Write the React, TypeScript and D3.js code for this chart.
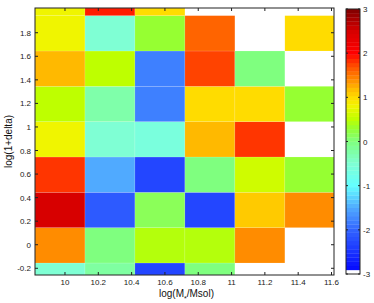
import React from "react";
import * as d3 from "d3";

// Bin centers (bin width 0.3)
const xCenters = [9.97, 10.27, 10.57, 10.87, 11.17, 11.47];
const yCenters = [-0.305, -0.005, 0.295, 0.595, 0.895, 1.195, 1.495, 1.795, 2.095];
const binW = 0.3;
// values[row][col], row 0 = lowest y bin; null = empty (white)
const values: (number | null)[][] = [
  [-0.5, -0.2, -2.3, 0, null, null],
  [1.4, 0, 0.45, 0.45, 1.4, null],
  [2.5, -2.1, 0.15, -2.3, 1.1, 1.4],
  [1.8, -1.5, -2.3, 0, 0.6, 0.3],
  [0.8, -0.5, -0.6, 1.2, 1.8, null],
  [0.5, -0.25, -1.8, 1.0, 1.0, 0.3],
  [1.2, 0.5, -1.8, 1.75, 0, null],
  [0.8, -0.5, 0.3, 1.6, null, 1.0],
  [0.8, 1.9, 1.0, null, null, null],
];
const xTicks = [10, 10.2, 10.4, 10.6, 10.8, 11, 11.2, 11.4, 11.6];
const yTicks = [-0.2, 0, 0.2, 0.4, 0.6, 0.8, 1, 1.2, 1.4, 1.6, 1.8];
const cTicks = [-3, -2, -1, 0, 1, 2, 3];
const cStops = [-3, -2.4, -2, -1.5, -1, -0.5, 0, 0.3, 0.5, 0.8, 1, 1.2, 1.4, 1.7, 2, 2.5, 3];
const cColors = [
  "#0000ff", "#1e3cff", "#3264ff", "#50aaff", "#64ffff", "#7fffd4", "#7fff7f",
  "#96ff32", "#beff00", "#f0f500", "#ffdc00", "#ffb900", "#ff8c00", "#ff5000",
  "#ff0000", "#d70000", "#800000",
];

const W = 374, H = 303;
const L = 35, R = 334, T = 8, B = 275;
const font = "'Liberation Sans', Arial, Helvetica, sans-serif";

export default function App() {
  const x = d3.scaleLinear().domain([9.82, 11.615]).range([L, R]);
  const y = d3.scaleLinear().domain([-0.257, 2.01]).range([B, T]);
  const color = d3.scaleLinear<string>().domain(cStops).range(cColors).interpolate(d3.interpolateRgb).clamp(true);
  const cbY = d3.scaleLinear().domain([-3, 3]).range([274, 9]);
  const nSteps = 64;
  const steps = d3.range(nSteps).map((i) => {
    const v0 = -3 + (6 * i) / nSteps;
    const v1 = -3 + (6 * (i + 1)) / nSteps;
    return { v0, v1, c: i === 0 ? "#ffffff" : color((v0 + v1) / 2) };
  });
  const cells: { x0: number; x1: number; y0: number; y1: number; c: string }[] = [];
  values.forEach((row, ri) =>
    row.forEach((v, ci) => {
      if (v === null) return;
      const x0 = Math.max(L, x(xCenters[ci] - binW / 2));
      const x1 = Math.min(R, x(xCenters[ci] + binW / 2));
      const y0 = Math.max(T, y(yCenters[ri] + binW / 2));
      const y1 = Math.min(B, y(yCenters[ri] - binW / 2));
      cells.push({ x0, x1, y0, y1, c: color(v) });
    })
  );
  const tl = 3;
  return (
    <svg width={W} height={H} style={{ position: "absolute", left: 0, top: 0 }} fontFamily={font}>
      <rect x={0} y={0} width={W} height={H} fill="#fff" />
      {cells.map((c, i) => (
        <rect key={i} x={c.x0} y={c.y0} width={c.x1 - c.x0} height={c.y1 - c.y0} fill={c.c}
          stroke="rgba(255,255,255,0.25)" strokeWidth={0.5} />
      ))}
      {/* axes box */}
      <rect x={L} y={T} width={R - L} height={B - T} fill="none" stroke="#222" strokeWidth={1} />
      {xTicks.map((t) => (
        <g key={"x" + t}>
          <line x1={x(t)} x2={x(t)} y1={B} y2={B - tl} stroke="#222" />
          <line x1={x(t)} x2={x(t)} y1={T} y2={T + tl} stroke="#222" />
          <text x={x(t)} y={285} fontSize={8} textAnchor="middle" fill="#222">{String(t)}</text>
        </g>
      ))}
      {yTicks.map((t) => (
        <g key={"y" + t}>
          <line x1={L} x2={L + tl} y1={y(t)} y2={y(t)} stroke="#222" />
          <line x1={R} x2={R - tl} y1={y(t)} y2={y(t)} stroke="#222" />
          <text x={31} y={y(t) + 3} fontSize={8} textAnchor="end" fill="#222">{String(t)}</text>
        </g>
      ))}
      <text x={(L + R) / 2 + 2} y={297} fontSize={10} textAnchor="middle" fill="#111">
        log(M<tspan baselineShift="sub" fontSize={7}>*</tspan>/Msol)
      </text>
      <text transform={`translate(12,${(T + B) / 2}) rotate(-90)`} fontSize={10} textAnchor="middle" fill="#111">
        log(1+delta)
      </text>
      {/* colorbar */}
      {steps.map((s, i) => (
        <rect key={"c" + i} x={346} y={cbY(s.v1)} width={14} height={cbY(s.v0) - cbY(s.v1) + 0.3} fill={s.c} />
      ))}
      <rect x={346} y={9} width={14} height={265} fill="none" stroke="#222" strokeWidth={1} />
      {cTicks.map((t) => (
        <g key={"c" + t}>
          <line x1={346} x2={348} y1={cbY(t)} y2={cbY(t)} stroke="#222" />
          <line x1={360} x2={358} y1={cbY(t)} y2={cbY(t)} stroke="#222" />
          <text x={363} y={cbY(t) + 3} fontSize={8} fill="#222">{t < 0 ? "-" + Math.abs(t) : String(t)}</text>
        </g>
      ))}
    </svg>
  );
}
